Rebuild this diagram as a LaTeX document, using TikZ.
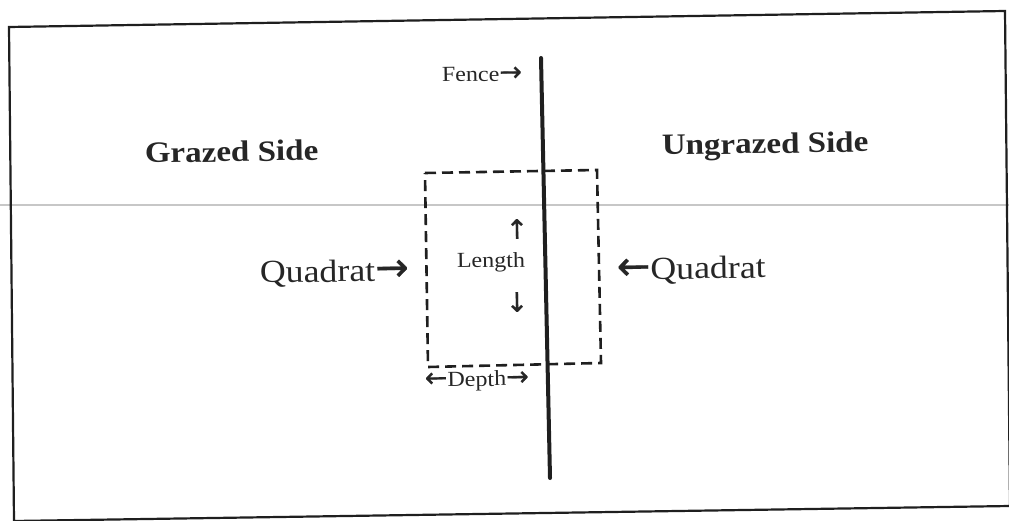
\documentclass[tikz,border=0pt]{standalone}
\usepackage{fontspec}
\setmainfont{Liberation Serif}[FakeStretch=1.12]
\newfontfamily\arrowfont{DejaVu Sans}[Scale=1.25,FakeBold=0.6]
\newcommand{\ra}{{\arrowfont →}}
\newcommand{\la}{{\arrowfont ←}}
\newcommand{\ua}{{\arrowfont ↑}}
\newcommand{\da}{{\arrowfont ↓}}
\begin{document}
\begin{tikzpicture}[x=1pt,y=1pt,
  ink/.style={draw=black!88},
  lbl/.style={inner sep=0pt,outer sep=0pt,anchor=base west,rotate=0.9,text=black!85},
  big/.style={lbl,font=\fontsize{29.5}{30}\selectfont\bfseries},
  mid/.style={lbl,font=\fontsize{32}{33}\selectfont},
  small/.style={lbl,font=\fontsize{21.5}{22}\selectfont},
  quadbox/.style={ink,line width=2.6pt,dash pattern=on 11pt off 6pt}]
\useasboundingbox (0,0) rectangle (1009,520);
\clip (0,0) rectangle (1009,520);
% scanner artefact line
\draw[black!22,line width=1.2pt] (0,315) -- (1009,315);
% frame
\coordinate (tl) at (9,493);
\coordinate (tr) at (1005,509);
\coordinate (br) at (1010,14);
\coordinate (bl) at (14,-1);
\draw[ink,line width=2.2pt] (tl) -- (tr) -- (br) -- (bl) -- cycle;
% fence
\coordinate (ftop) at (541,462);
\coordinate (fbot) at (550,42);
\draw[ink,line width=4pt,line cap=round] (ftop) -- (fbot);
% quadrat
\coordinate (q1) at (425,347);
\coordinate (q2) at (597,350);
\coordinate (q3) at (601,157);
\coordinate (q4) at (428,153);
\draw[quadbox] (q1) -- (q2) -- (q3) -- (q4) -- cycle;
% labels
\node[big] (grazed) at (145,357) {Grazed Side};
\node[big] (ungrazed) at (662,365) {Ungrazed Side};
\node[mid] (quadL) at (260,237) {Quadrat\ra};
\node[mid] (quadR) at (617,240) {\la Quadrat};
\node[small] (fence) at (442,438) {Fence\ra};
\node[small] (length) at (457,252) {Length};
\node[small,anchor=center] (up) at (517,291) {\ua};
\node[small,anchor=center] (down) at (517,218) {\da};
\node[small] (depth) at (425,133) {\la Depth\ra};
\end{tikzpicture}
\end{document}
